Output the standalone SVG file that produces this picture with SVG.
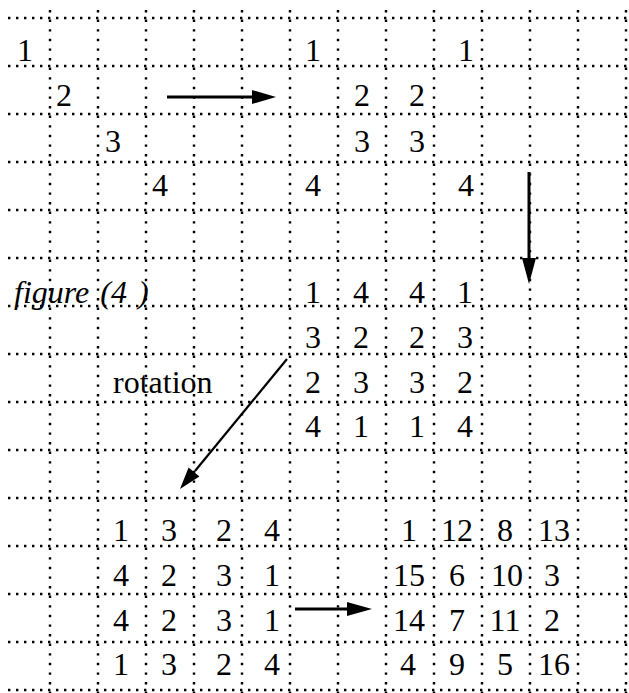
<svg xmlns="http://www.w3.org/2000/svg" width="629" height="693" viewBox="0 0 629 693">
<style>
.h{stroke:#000;stroke-width:2.4;stroke-dasharray:2.4 5.6;fill:none}
.v{stroke:#000;stroke-width:2.4;stroke-dasharray:2.4 7.2;fill:none}
text{font-family:"Liberation Serif","Times New Roman",serif;font-size:32px;fill:#000}
.n text{text-anchor:middle}
.a{stroke:#000;fill:none;stroke-linecap:butt}
.hd{fill:#000;stroke:none}
</style>
<rect width="629" height="693" fill="#fff"/>
<g id="grid">
<path class="h" d="M8 18H629M8 66H629M8 114H629M8 162H629M8 210H629M8 258H629M8 306H629M8 354H629M8 402H629M8 450H629M8 498H629M8 546H629M8 594H629M8 642H629M8 690H629"/>
<path class="v" d="M50 10V693M98 10V693M146 10V693M194 10V693M242 10V693M290 10V693M338 10V693M386 10V693M434 10V693M482 10V693M530 10V693M578 10V693M626 10V693"/>
</g>
<g id="diagonal" class="n">
<text x="25" y="61">1</text>
<text x="64" y="106">2</text>
<text x="113" y="152">3</text>
<text x="160" y="196">4</text>
</g>
<g id="corners" class="n">
<text x="313" y="61">1</text><text x="466" y="61">1</text>
<text x="362" y="106">2</text><text x="417" y="106">2</text>
<text x="362" y="152">3</text><text x="417" y="152">3</text>
<text x="313" y="196">4</text><text x="466" y="196">4</text>
</g>
<g id="filled" class="n">
<text x="313" y="303">1</text><text x="361" y="303">4</text><text x="417" y="303">4</text><text x="465" y="303">1</text>
<text x="313" y="348">3</text><text x="361" y="348">2</text><text x="417" y="348">2</text><text x="465" y="348">3</text>
<text x="313" y="393">2</text><text x="361" y="393">3</text><text x="417" y="393">3</text><text x="465" y="393">2</text>
<text x="313" y="437">4</text><text x="361" y="437">1</text><text x="417" y="437">1</text><text x="465" y="437">4</text>
</g>
<g id="rotated" class="n">
<text x="121" y="541">1</text><text x="169" y="541">3</text><text x="224" y="541">2</text><text x="272" y="541">4</text>
<text x="121" y="586">4</text><text x="169" y="586">2</text><text x="224" y="586">3</text><text x="272" y="586">1</text>
<text x="121" y="631">4</text><text x="169" y="631">2</text><text x="224" y="631">3</text><text x="272" y="631">1</text>
<text x="121" y="675">1</text><text x="169" y="675">3</text><text x="224" y="675">2</text><text x="272" y="675">4</text>
</g>
<g id="square" class="n">
<text x="409" y="541">1</text><text x="457" y="541">12</text><text x="505" y="541">8</text><text x="554" y="541">13</text>
<text x="409" y="586">15</text><text x="457" y="586">6</text><text x="507" y="586">10</text><text x="552" y="586">3</text>
<text x="409" y="631">14</text><text x="457" y="631">7</text><text x="505" y="631">11</text><text x="552" y="631">2</text>
<text x="408" y="675">4</text><text x="457" y="675">9</text><text x="505" y="675">5</text><text x="554" y="675">16</text>
</g>
<g id="labels">
<text x="14" y="303" font-style="italic" word-spacing="3">figure (4 )</text>
<text x="113" y="393" font-size="31">rotation</text>
</g>
<g id="connectors">
<line class="a" x1="167" y1="97" x2="254" y2="97" stroke-width="3"/>
<polygon class="hd" points="252,90 276,97 252,104"/>
<line class="a" x1="529" y1="172" x2="529" y2="260" stroke-width="3"/>
<polygon class="hd" points="522,258 529,284 536,258"/>
<line class="a" x1="287" y1="359" x2="195" y2="471" stroke-width="2.2"/>
<polygon class="hd" points="199.4,476.4 180,489 188.6,467.6"/>
<line class="a" x1="295" y1="609" x2="349" y2="609" stroke-width="3"/>
<polygon class="hd" points="347,602 372,609 347,616"/>
</g>
</svg>
